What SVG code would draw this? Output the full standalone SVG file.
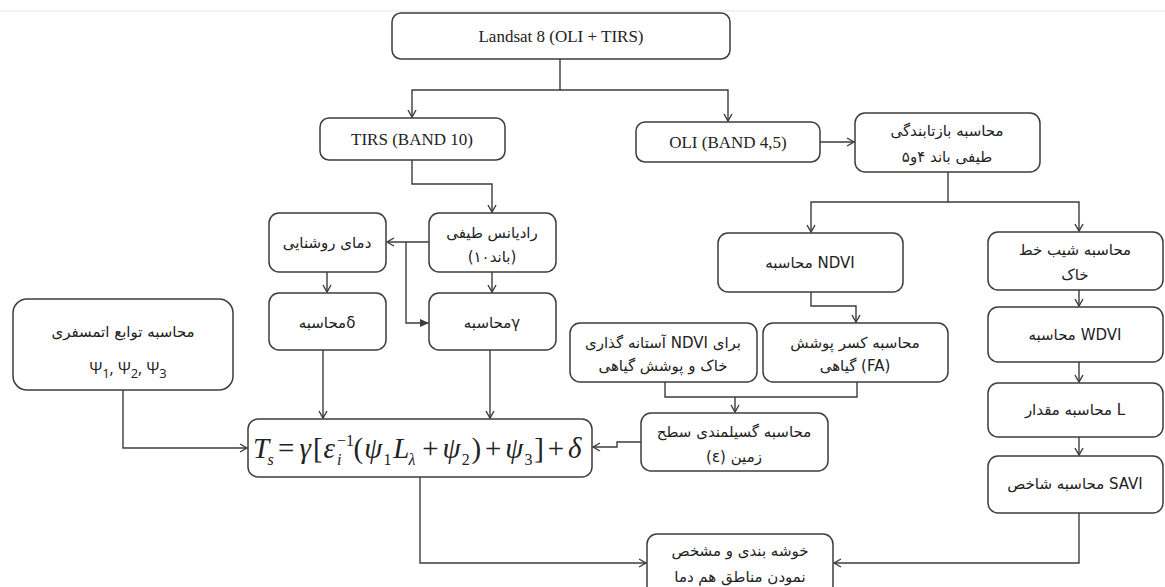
<svg xmlns="http://www.w3.org/2000/svg" width="1165" height="587" viewBox="0 0 1165 587">
<style>
.box{fill:#fff;stroke:#3c3c3c;stroke-width:1.5}
.c{fill:none;stroke:#3c3c3c;stroke-width:1.4}
.lat{font-family:'Liberation Serif',serif;font-size:17px;fill:#222;text-anchor:middle}
.fa{font-family:'DejaVu Sans',sans-serif;font-size:15px;fill:#222;text-anchor:middle;direction:rtl}
.mx{direction:ltr}
.fm{font-family:'Liberation Serif',serif;fill:#222;font-size:29px}
.it{font-style:italic}
.sm{font-size:16px}
</style>
<defs>
<marker id="a" markerWidth="10" markerHeight="10" refX="8" refY="5" orient="auto" markerUnits="userSpaceOnUse">
<path d="M1,1 L8,5 L1,9" fill="none" stroke="#3c3c3c" stroke-width="1.4"/>
</marker>
<marker id="af" markerWidth="10" markerHeight="10" refX="8" refY="5" orient="auto" markerUnits="userSpaceOnUse">
<path d="M0,1 L9,5 L0,9 Z" fill="#3c3c3c"/>
</marker>
</defs>
<rect width="1165" height="587" fill="#fff"/>
<line x1="0" y1="11" x2="1165" y2="11" stroke="#e6e6e6" stroke-width="1"/>

<g id="connectors">
<path class="c" d="M560,59 V90 H412 V117" marker-end="url(#a)"/>
<path class="c" d="M560,90 H728 V121" marker-end="url(#a)"/>
<path class="c" d="M820,142 H854" marker-end="url(#a)"/>
<path class="c" d="M412,160 V184 H492 V212" marker-end="url(#a)"/>
<path class="c" d="M948,172 V202 H811 V232" marker-end="url(#a)"/>
<path class="c" d="M948,202 H1079 V231" marker-end="url(#a)"/>
<path class="c" d="M429,242 H387" marker-end="url(#a)"/>
<path class="c" d="M406,242 V323 H428" stroke-width="2.2" marker-end="url(#af)"/>
<path class="c" d="M327,272 V292" marker-end="url(#a)"/>
<path class="c" d="M492,272 V292" marker-end="url(#a)"/>
<path class="c" d="M323,350 V418" marker-end="url(#a)"/>
<path class="c" d="M490,350 V418" marker-end="url(#a)"/>
<path class="c" d="M123,390 V448 H247" marker-end="url(#a)"/>
<path class="c" d="M811,292 V306 H856 V322" marker-end="url(#a)"/>
<path class="c" d="M665,382 V397 H857 V382"/>
<path class="c" d="M735,397 V412" marker-end="url(#a)"/>
<path class="c" d="M641,442 H617 V447 H593" marker-end="url(#a)"/>
<path class="c" d="M1079,290 V306" marker-end="url(#a)"/>
<path class="c" d="M1079,362 V382" marker-end="url(#a)"/>
<path class="c" d="M1079,437 V455" marker-end="url(#a)"/>
<path class="c" d="M420,477 V563 H646" marker-end="url(#a)"/>
<path class="c" d="M1079,513 V563 H834" marker-end="url(#a)"/>
</g>

<g id="landsat">
<rect class="box" x="392" y="13" width="338" height="46" rx="9"/>
<text class="lat" x="561" y="42">Landsat 8 (OLI + TIRS)</text>
</g>
<g id="tirs">
<rect class="box" x="320" y="118" width="185" height="42" rx="9"/>
<text class="lat" x="412" y="145">TIRS (BAND 10)</text>
</g>
<g id="oli">
<rect class="box" x="636" y="122" width="184" height="40" rx="9"/>
<text class="lat" x="728" y="148">OLI (BAND 4,5)</text>
</g>
<g id="reflectance">
<rect class="box" x="855" y="113" width="185" height="59" rx="10"/>
<text class="fa" x="947" y="136">محاسبه بازتابندگی</text>
<text class="fa" x="947" y="162">طیفی باند ۴و۵</text>
</g>
<g id="radiance">
<rect class="box" x="429" y="213" width="127" height="59" rx="10"/>
<text class="fa" x="492" y="238">رادیانس طیفی</text>
<text class="fa" x="492" y="262">(باند۱۰)</text>
</g>
<g id="brightness">
<rect class="box" x="269" y="213" width="117" height="59" rx="10"/>
<text class="fa" x="327" y="248" font-size="16">دمای روشنایی</text>
</g>
<g id="delta">
<rect class="box" x="269" y="293" width="117" height="57" rx="10"/>
<text class="fa mx" x="327" y="328">محاسبهδ</text>
</g>
<g id="gamma">
<rect class="box" x="429" y="293" width="127" height="57" rx="10"/>
<text class="fa mx" x="492" y="328">محاسبهγ</text>
</g>
<g id="atmos">
<rect class="box" x="13" y="299" width="220" height="91" rx="14"/>
<text class="fa" x="123" y="337">محاسبه توابع اتمسفری</text>
<text x="128" y="374" font-family="'Open Sans',sans-serif" font-size="16" fill="#222" text-anchor="middle">Ψ<tspan font-size="13" dy="4">1</tspan><tspan dy="-4">, Ψ</tspan><tspan font-size="13" dy="4">2</tspan><tspan dy="-4">, Ψ</tspan><tspan font-size="13" dy="4">3</tspan></text>
</g>
<g id="ndvi">
<rect class="box" x="718" y="233" width="185" height="59" rx="10"/>
<text class="fa mx" x="810" y="268">محاسبه NDVI</text>
</g>
<g id="threshold">
<rect class="box" x="570" y="323" width="187" height="59" rx="10"/>
<text class="fa mx" x="663" y="348">آستانه گذاری NDVI برای</text>
<text class="fa" x="663" y="371">خاک و پوشش گیاهی</text>
</g>
<g id="fraction">
<rect class="box" x="763" y="323" width="185" height="59" rx="10"/>
<text class="fa" x="855" y="348">محاسبه کسر پوشش</text>
<text class="fa mx" x="855" y="371">گیاهی (FA)</text>
</g>
<g id="emissivity">
<rect class="box" x="641" y="413" width="187" height="58" rx="10"/>
<text class="fa" x="734" y="437">محاسبه گسیلمندی سطح</text>
<text class="fa" x="734" y="462">زمین (ε)</text>
</g>
<g id="formula">
<rect class="box" x="248" y="419" width="344" height="58" rx="10"/>
<text class="fm" y="458"><tspan class="it" x="253">T</tspan><tspan class="it sm" x="267.5" dy="7">s</tspan><tspan x="278" dy="-7">=</tspan><tspan class="it" x="299.4">γ</tspan><tspan x="312.9">[</tspan><tspan class="it" x="323.6">ε</tspan><tspan class="sm" x="337.1" dy="-12">−1</tspan><tspan class="it sm" x="337.1" dy="19">i</tspan><tspan x="353.5" dy="-7">(</tspan><tspan class="it" x="364.2">ψ</tspan><tspan class="sm" x="383.5" dy="7">1</tspan><tspan class="it" x="393.2" dy="-7">L</tspan><tspan class="it sm" x="408.6" dy="7">λ</tspan><tspan x="422.2" dy="-7">+</tspan><tspan class="it" x="442.5">ψ</tspan><tspan class="sm" x="461.8" dy="7">2</tspan><tspan x="471.5" dy="-7">)</tspan><tspan x="485">+</tspan><tspan class="it" x="505.3">ψ</tspan><tspan class="sm" x="524.6" dy="7">3</tspan><tspan x="534.3" dy="-7">]</tspan><tspan x="547.8">+</tspan><tspan class="it" x="568.1">δ</tspan></text>
</g>
<g id="soilline">
<rect class="box" x="988" y="232" width="175" height="58" rx="10"/>
<text class="fa" x="1075" y="255" font-size="16">محاسبه شیب خط</text>
<text class="fa" x="1075" y="280" font-size="16">خاک</text>
</g>
<g id="wdvi">
<rect class="box" x="988" y="307" width="175" height="55" rx="10"/>
<text class="fa mx" x="1075" y="340">محاسبه  WDVI</text>
</g>
<g id="lvalue">
<rect class="box" x="988" y="383" width="175" height="54" rx="10"/>
<text class="fa mx" x="1075" y="415">محاسبه مقدار L</text>
</g>
<g id="savi">
<rect class="box" x="988" y="456" width="175" height="57" rx="10"/>
<text class="fa mx" x="1075" y="489">محاسبه شاخص SAVI</text>
</g>
<g id="cluster">
<rect class="box" x="647" y="534" width="186" height="62" rx="10"/>
<text class="fa" x="740" y="556">خوشه بندی و مشخص</text>
<text class="fa" x="740" y="582">نمودن مناطق هم دما</text>
</g>
</svg>
